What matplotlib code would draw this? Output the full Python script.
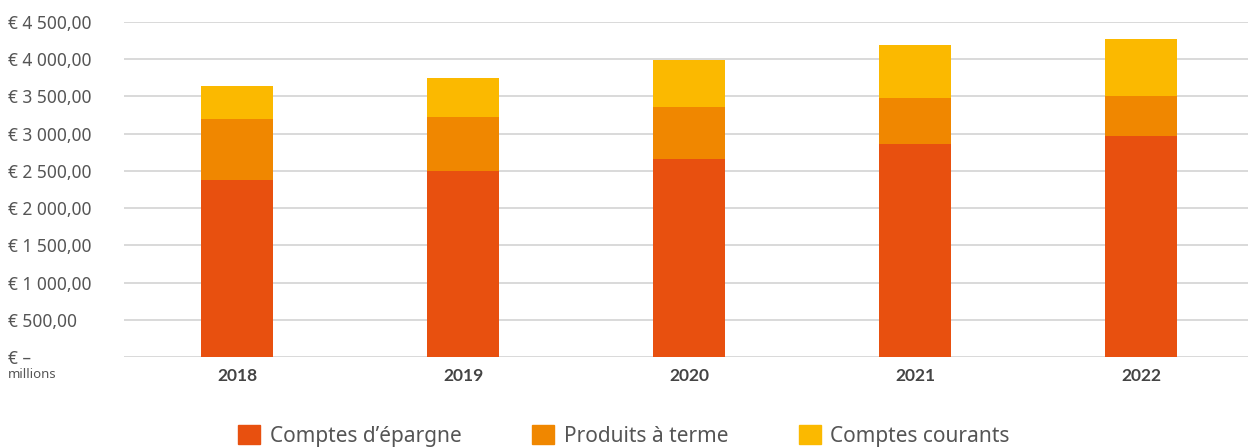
import matplotlib.pyplot as plt, numpy as np
from matplotlib.patches import Patch

plt.rcParams['font.family'] = ['Noto Sans', 'DejaVu Sans']

# DATA (millions EUR)
years = ["2018", "2019", "2020", "2021", "2022"]
epargne = [2378, 2503, 2660, 2865, 2969]
terme = [819, 721, 698, 614, 537]
courants = [443, 524, 632, 712, 766]
series_names = ["Comptes d’épargne", "Produits à terme", "Comptes courants"]
colors = ["#E8500F", "#F08700", "#FBB900"]
yticks = [0, 500, 1000, 1500, 2000, 2500, 3000, 3500, 4000, 4500]
ytick_labels = ["€ –", "€ 500,00", "€ 1 000,00", "€ 1 500,00", "€ 2 000,00",
                "€ 2 500,00", "€ 3 000,00", "€ 3 500,00", "€ 4 000,00", "€ 4 500,00"]

fig = plt.figure(figsize=(12.48, 4.48), dpi=100)
ax = fig.add_axes([124/1248, 1 - 357/448, 1130/1248, 335/448])

x = np.arange(len(years))
w = 0.32
bottom = np.zeros(len(years))
for vals, col in zip([epargne, terme, courants], colors):
    ax.bar(x, vals, w, bottom=bottom, color=col, zorder=3)
    bottom += np.array(vals)

ax.set_xlim(-0.5, len(years) - 0.5)
ax.set_ylim(0, 4500)
ax.set_yticks(yticks)
ax.set_yticklabels(ytick_labels, ha='left', color='#555555', fontsize=12.5)
ax.tick_params(axis='y', length=0, pad=83.5)
ax.set_xticks(x)
ax.set_xticklabels(years, fontweight='bold', color='#444444', fontsize=12.5,
                   family=['Lato', 'DejaVu Sans'])
ax.tick_params(axis='x', length=0, pad=8)
ax.grid(axis='y', color='#d9d9d9', linewidth=1.4, zorder=0)
for s in ['top', 'right', 'left', 'bottom']:
    ax.spines[s].set_visible(False)

fig.text(8/1248, 1 - 375/448, "millions", fontsize=9.5, color='#555555', va='center')

handles = [Patch(color=c, label=n) for c, n in zip(colors, series_names)]
fig.legend(handles=handles, loc='center', bbox_to_anchor=(0.5, 1 - 436/448), ncol=3,
           frameon=False, fontsize=15, handlelength=1.05, handleheight=1.05,
           handletextpad=0.45, columnspacing=3.4, labelcolor='#555555')

fig.savefig("out.png", dpi=100)
